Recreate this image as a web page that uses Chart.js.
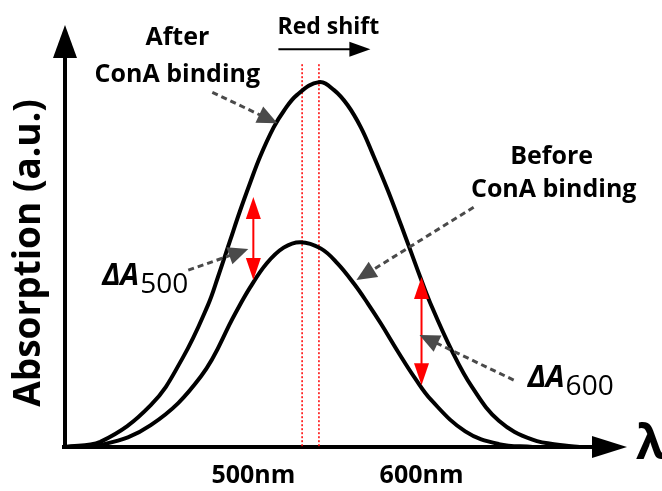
<!DOCTYPE html>
<html>
<head>
<meta charset="utf-8">
<script src="https://cdn.jsdelivr.net/npm/chart.js@4"></script>
<style>
  html, body { margin: 0; padding: 0; background: #fff; }
  #wrap { width: 662px; height: 491px; }
</style>
</head>
<body>
<div id="wrap"><canvas id="specChart" width="662" height="491"></canvas></div>
<script>
// wavelength (nm) and absorption (a.u.)
const afterNm  = [388, 409, 439, 458, 473, 479, 486, 492, 498, 504, 512, 518, 526, 539, 548, 556, 564, 571, 580, 588, 594, 599, 605, 618, 630, 646, 666, 685, 694];
const afterAbs = [0, 1.4, 11.5, 24.5, 39.0, 46.8, 56.5, 64.8, 72.5, 79.8, 87.8, 92.3, 96.8, 100.3, 98.1, 94.0, 87.8, 80.5, 70.5, 60.8, 53.3, 47.0, 39.8, 26.5, 16.5, 7.2, 2.0, 0.4, 0];
const beforeNm  = [388, 409, 439, 469, 489, 498, 508, 518, 528, 540, 550, 560, 568, 576, 586, 596, 606, 626, 646, 666];
const beforeAbs = [0, 0.5, 6.0, 19.5, 36.5, 43.8, 50.5, 54.8, 56.3, 54.6, 50.5, 44.8, 39.5, 33.8, 26.2, 19.0, 12.8, 4.3, 0.8, 0];
const tickNm = [500, 600];
const peakNm = [529, 539];
// ΔA markers: wavelength, top, bottom
const deltaNm = [500, 600];
const deltaTop = [68.7, 46.7];
const deltaBottom = [45.9, 17.0];

const CANVAS = document.getElementById("specChart");
const FONT = "'Open Sans', 'DejaVu Sans', sans-serif";
const syTop = 104.4;

function toPts(xs, ys) {
    return xs.map((v, i) => ({x: v, y: ys[i]}));
}

function head(ctx, x1, y1, x2, y2, len, half, color) {
    const ang = Math.atan2(y2 - y1, x2 - x1);
    ctx.save();
    ctx.fillStyle = color;
    ctx.translate(x2, y2);
    ctx.rotate(ang);
    ctx.beginPath();
    ctx.moveTo(0, 0);
    ctx.lineTo(-len, -half);
    ctx.lineTo(-len, half);
    ctx.closePath();
    ctx.fill();
    ctx.restore();
}

function dashArrow(ctx, x1, y1, x2, y2) {
    const ang = Math.atan2(y2 - y1, x2 - x1);
    ctx.save();
    ctx.strokeStyle = '#4a4a4a';
    ctx.lineWidth = 3;
    ctx.setLineDash([6, 4]);
    ctx.beginPath();
    ctx.moveTo(x1, y1);
    ctx.lineTo(x2 - Math.cos(ang) * 14, y2 - Math.sin(ang) * 14);
    ctx.stroke();
    ctx.restore();
    head(ctx, x1, y1, x2, y2, 20, 9, '#4a4a4a');
}

const sketch = {
    id: 'sketch',
    beforeDatasetsDraw(chart) {
        const {ctx, chartArea: a, scales: {x, y}} = chart;
        ctx.save();
        // axes with arrow heads
        ctx.strokeStyle = '#000';
        ctx.lineWidth = 4;
        ctx.beginPath();
        ctx.moveTo(a.left, a.bottom + 1);
        ctx.lineTo(a.left, a.top + 30);
        ctx.moveTo(a.left - 3, a.bottom);
        ctx.lineTo(a.right - 30, a.bottom);
        ctx.stroke();
        head(ctx, a.left, a.bottom, a.left, a.top, 33, 12, '#000');
        head(ctx, a.left, a.bottom, a.right + 2, a.bottom, 35, 11, '#000');
        // peak markers
        ctx.strokeStyle = '#ff0000';
        ctx.lineWidth = 1.5;
        ctx.setLineDash([2, 2]);
        peakNm.forEach(v => {
            const px = x.getPixelForValue(v);
            ctx.beginPath();
            ctx.moveTo(px, y.getPixelForValue(syTop) - 3);
            ctx.lineTo(px, a.bottom);
            ctx.stroke();
        });
        ctx.restore();
    },
    afterDatasetsDraw(chart) {
        const {ctx, chartArea: a, scales: {x, y}} = chart;
        const X = v => x.getPixelForValue(v);
        const Y = v => y.getPixelForValue(v);
        ctx.save();
        // red double arrows
        deltaNm.forEach((v, i) => {
            const px = X(v), t = Y(deltaTop[i]), b = Y(deltaBottom[i]);
            ctx.strokeStyle = '#ff0000';
            ctx.lineWidth = 2;
            ctx.beginPath();
            ctx.moveTo(px, t + 18);
            ctx.lineTo(px, b - 18);
            ctx.stroke();
            head(ctx, px, b, px, t, 22, 7.5, '#ff0000');
            head(ctx, px, t, px, b, 22, 7.5, '#ff0000');
        });
        // gray pointers
        dashArrow(ctx, X(475.6), Y(97.5), X(514.3), Y(89.0));
        dashArrow(ctx, X(631), Y(65.9), X(561.3), Y(45.9));
        dashArrow(ctx, X(461.3), Y(48.6), X(497), Y(54.4));
        dashArrow(ctx, X(654.8), Y(18.4), X(598.8), Y(30.8));

        // labels
        ctx.fillStyle = '#000';
        ctx.textAlign = 'center';
        ctx.textBaseline = 'middle';
        ctx.font = 'bold 25px ' + FONT;
        ctx.fillText('After', X(454.8), Y(112.4));
        ctx.fillText('ConA binding', X(454.8), Y(102.2));
        ctx.fillText('Before', X(677.4), Y(79.7));
        ctx.fillText('ConA binding', X(678.6), Y(70.6));
        ctx.font = 'bold 23px ' + FONT;
        ctx.fillText('Red shift', X(544.6), Y(115.4));

        // red shift arrow
        ctx.strokeStyle = '#000';
        ctx.lineWidth = 2;
        ctx.beginPath();
        ctx.moveTo(X(514.9), Y(109.3));
        ctx.lineTo(X(569.6) - 18, Y(109.3));
        ctx.stroke();
        head(ctx, X(514.9), Y(109.3), X(569.6), Y(109.3), 21, 7.5, '#000');

        // ΔA labels
        ctx.textAlign = 'left';
        ctx.textBaseline = 'alphabetic';
        [[410.1, 44.5, '500'], [663.1, 16.5, '600']].forEach(([v, w, s]) => {
            const px = X(v), py = Y(w);
            ctx.font = 'italic bold 30px ' + FONT;
            ctx.fillText('ΔA', px, py);
            const wd = ctx.measureText('ΔA').width;
            ctx.font = '28px ' + FONT;
            ctx.fillText(s, px + wd + 1, py + 8);
        });

        // axis titles
        ctx.font = 'bold 48px ' + FONT;
        ctx.textBaseline = 'middle';
        ctx.fillText('λ', a.right + 11, a.bottom - 2);
        ctx.save();
        ctx.translate(29, 253);
        ctx.rotate(-Math.PI / 2);
        ctx.textAlign = 'center';
        ctx.font = 'bold 37px ' + FONT;
        ctx.fillText('Absorption (a.u.)', 0, 0);
        ctx.restore();
        ctx.restore();
    }
};

let specChart = new Chart(CANVAS, {
    type: 'line',
    data: {
        datasets: [{
            label: 'After ConA binding',
            data: toPts(afterNm, afterAbs),
            borderColor: '#000',
            borderWidth: 4,
            pointRadius: 0,
            tension: 0.4,
            fill: false
        }, {
            label: 'Before ConA binding',
            data: toPts(beforeNm, beforeAbs),
            borderColor: '#000',
            borderWidth: 4,
            pointRadius: 0,
            tension: 0.4,
            fill: false
        }]
    },
    options: {
        responsive: false,
        animation: false,
        layout: {padding: {left: 65, right: 37, top: 25, bottom: 0}},
        plugins: {
            legend: {display: false},
            tooltip: {enabled: false}
        },
        scales: {
            x: {
                type: 'linear',
                min: 388,
                max: 721,
                grid: {display: false, drawTicks: false},
                border: {display: false},
                afterBuildTicks: s => { s.ticks = tickNm.map(v => ({value: v})); },
                afterFit: s => { s.height = 44; },
                ticks: {
                    color: '#000',
                    padding: 14,
                    font: {family: FONT, size: 25, weight: 'bold'},
                    callback: v => v + 'nm'
                }
            },
            y: {
                display: false,
                min: 0,
                max: 116
            }
        }
    },
    plugins: [sketch]
});
</script>
</body>
</html>
